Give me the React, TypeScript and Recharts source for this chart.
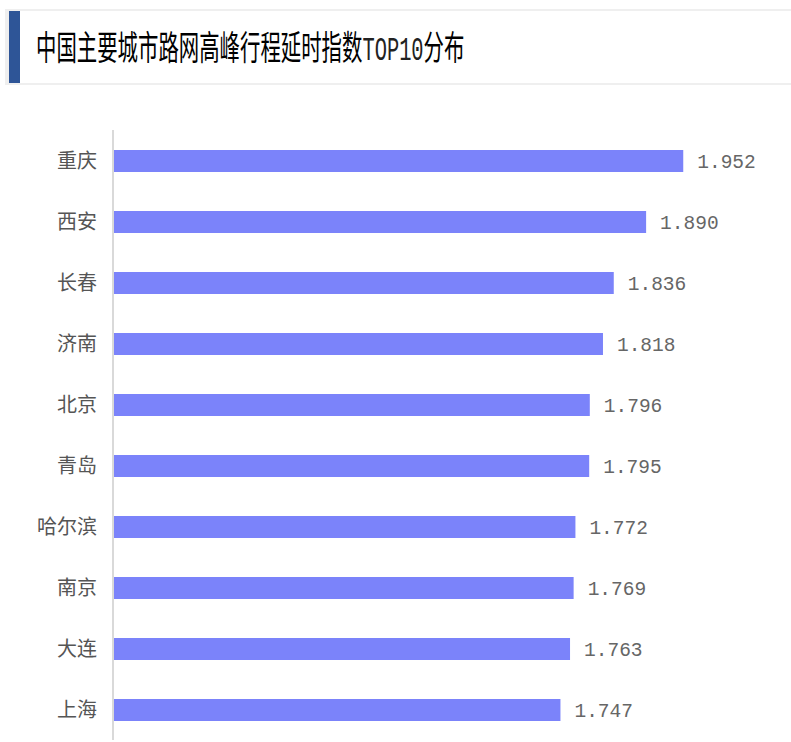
import React from "react";
import { BarChart, Bar, XAxis, YAxis, LabelList } from "recharts";

const cities = ["重庆", "西安", "长春", "济南", "北京", "青岛", "哈尔滨", "南京", "大连", "上海"];
const delayIndex = [1.952, 1.89, 1.836, 1.818, 1.796, 1.795, 1.772, 1.769, 1.763, 1.747];
const titleMain = "中国主要城市路网高峰行程延时指数";
const titleLatin = "TOP10";
const titleTail = "分布";

const data = cities.map((c, i) => ({ city: c, value: delayIndex[i] }));

export default function App() {
  return (
    <div
      style={{
        position: "absolute",
        left: 0,
        top: 0,
        width: 791,
        height: 742,
        overflow: "hidden",
        background: "#fff",
      }}
    >
      <div
        style={{
          position: "absolute",
          left: 5,
          top: 9,
          width: 800,
          height: 72,
          borderTop: "2px solid #efefef",
          borderBottom: "2px solid #efefef",
          borderLeft: "4px solid #efefef",
        }}
      >
        <div
          style={{
            position: "absolute",
            left: 0,
            top: 0,
            width: 11,
            height: "100%",
            background: "#2e5597",
          }}
        />
      </div>
      <div
        style={{
          position: "absolute",
          left: 36,
          top: 24,
          height: 44,
          lineHeight: "44px",
          whiteSpace: "nowrap",
          fontSize: 34,
          fontWeight: 400,
          color: "#000",
          fontFamily: "'Noto Sans CJK SC', sans-serif",
          transform: "scaleX(0.6)",
          transformOrigin: "left center",
        }}
      >
        {titleMain}
        <span style={{ fontFamily: "'Liberation Mono', monospace", color: "#222" }}>
          {titleLatin}
        </span>
        {titleTail}
      </div>
      <div style={{ position: "absolute", left: 0, top: 0 }}>
        <BarChart
          width={791}
          height={760}
          data={data}
          layout="vertical"
          margin={{ top: 130, right: 79, bottom: 20, left: 0 }}
          barCategoryGap={19.5}
        >
          <XAxis type="number" domain={[1, 2]} hide allowDataOverflow />
          <YAxis
            type="category"
            dataKey="city"
            width={113}
            axisLine={{ stroke: "#d9d9d9", strokeWidth: 2 }}
            tickLine={false}
            tickSize={0}
            tickMargin={16}
            tick={{
              fill: "#555",
              fontSize: 20,
              fontFamily: "'Noto Sans CJK SC', sans-serif",
            }}
          />
          <Bar dataKey="value" fill="#7b83fa" barSize={22} isAnimationActive={false}>
            <LabelList
              dataKey="value"
              position="right"
              offset={14}
              formatter={(v: number) => Number(v).toFixed(3)}
              style={{
                fill: "#666",
                fontSize: 19.5,
                fontFamily: "'Liberation Mono', monospace",
              }}
            />
          </Bar>
        </BarChart>
      </div>
    </div>
  );
}
